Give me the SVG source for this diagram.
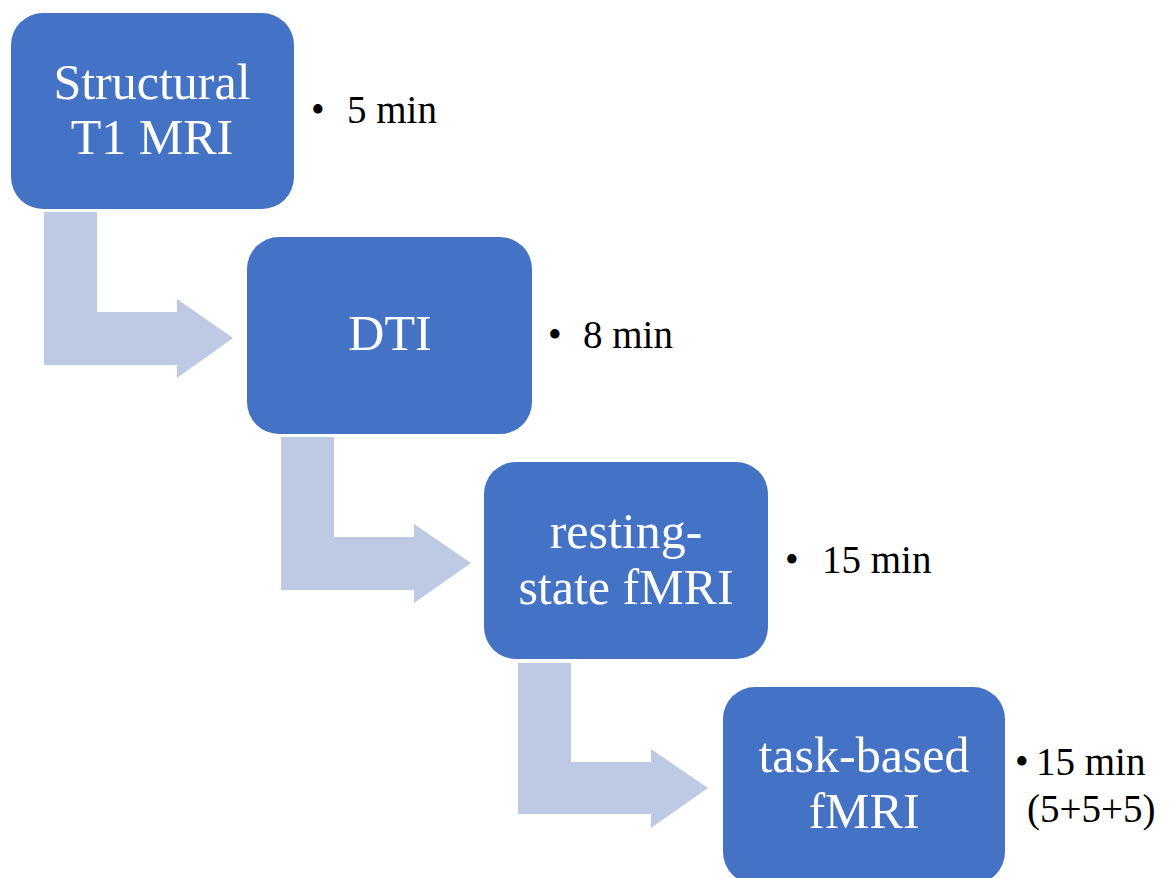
<svg xmlns="http://www.w3.org/2000/svg" width="1173" height="878" viewBox="0 0 1173 878">
<style>
.box{fill:#4472C4;}
.arr{fill:#BEC9E4;}
.lbl{font-family:"Liberation Serif","Times New Roman",serif;font-size:50px;fill:#FFFFFF;text-anchor:middle;}
.note{font-family:"Liberation Serif","Times New Roman",serif;font-size:39px;fill:#000000;}
</style>
<rect width="1173" height="878" fill="#FFFFFF"/>
<g id="connectors">
<path class="arr" d="M44,212 H97 V312 H177 V299 L233,338 L177,378 V365 H44 Z"/>
<path class="arr" d="M281,437 H334 V537 H414 V524 L471,563 L414,603 V590 H281 Z"/>
<path class="arr" d="M518,663 H571 V762 H651 V749 L708,788 L651,828 V814 H518 Z"/>
</g>
<g id="node-structural">
<rect class="box" x="11" y="13" width="283" height="196" rx="32"/>
<text class="lbl" x="152" y="99">Structural</text>
<text class="lbl" x="152" y="154">T1 MRI</text>
<text class="note" x="311" y="123">•</text>
<text class="note" x="347" y="123">5 min</text>
</g>
<g id="node-dti">
<rect class="box" x="247" y="237" width="285" height="197" rx="32"/>
<text class="lbl" x="390" y="350">DTI</text>
<text class="note" x="548" y="348">•</text>
<text class="note" x="583" y="348">8 min</text>
</g>
<g id="node-resting">
<rect class="box" x="484" y="462" width="284" height="197" rx="32"/>
<text class="lbl" x="626" y="548">resting-</text>
<text class="lbl" x="626" y="604">state fMRI</text>
<text class="note" x="785" y="573">•</text>
<text class="note" x="822" y="573">15 min</text>
</g>
<g id="node-task">
<rect class="box" x="723" y="687" width="282" height="197" rx="32"/>
<text class="lbl" x="864" y="772">task-based</text>
<text class="lbl" x="864" y="828">fMRI</text>
<text class="note" x="1015" y="775">•</text>
<text class="note" x="1036" y="775">15 min</text>
<text class="note" x="1027" y="822">(5+5+5)</text>
</g>
</svg>
